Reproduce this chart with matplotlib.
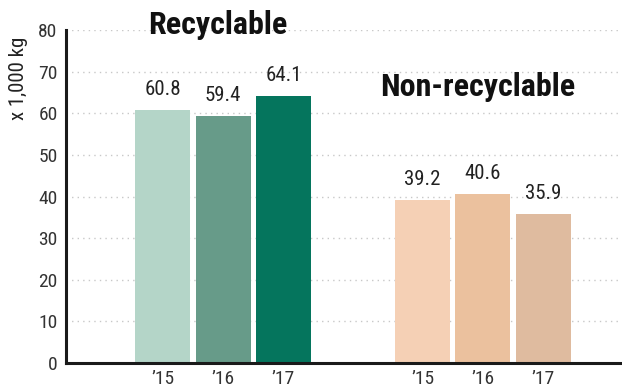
import matplotlib
matplotlib.use("Agg")
import matplotlib.pyplot as plt

categories = ["Recyclable", "Non-recyclable"]
years = ["\u201915", "\u201916", "\u201917"]
recyclable = [60.8, 59.4, 64.1]
non_recyclable = [39.2, 40.6, 35.9]
rec_colors = ["#b4d5c8", "#679b89", "#05755d"]
non_colors = ["#f5d0b5", "#ebc19e", "#dfbb9f"]

plt.rcParams["font.family"] = ["Roboto Condensed", "DejaVu Sans Condensed", "DejaVu Sans"]

fig = plt.figure(figsize=(6.22, 3.9), dpi=100)
ax = fig.add_axes([0.106, 0.069, 0.894, 0.854])

pos_rec = [0, 1, 2]
pos_non = [4.3, 5.3, 6.3]
w = 0.91
b1 = ax.bar(pos_rec, recyclable, width=w, color=rec_colors, zorder=2)
b2 = ax.bar(pos_non, non_recyclable, width=w, color=non_colors, zorder=2)
for bars, vals in ((b1, recyclable), (b2, non_recyclable)):
    for b, v in zip(bars, vals):
        ax.text(b.get_x() + b.get_width() / 2, v + 2.6, f"{v:.1f}",
                ha="center", va="bottom", fontsize=15, color="#222222")

ax.set_xlim(-1.6, 7.6)
ax.set_ylim(0, 80)
ax.set_yticks(range(0, 81, 10))
ax.set_xticks(pos_rec + pos_non)
ax.set_xticklabels(years + years)
ax.tick_params(axis="both", length=0, labelsize=14, colors="#333333")
ax.tick_params(axis="x", pad=5)
ax.tick_params(axis="y", pad=6)
ax.grid(axis="y", color="#c8c8c8", linestyle=(0, (1, 3)), linewidth=1, zorder=0)
for s in ("top", "right"):
    ax.spines[s].set_visible(False)
for s in ("left", "bottom"):
    ax.spines[s].set_linewidth(2.2)
    ax.spines[s].set_color("#1a1a1a")
ax.set_ylabel("x 1,000 kg", fontsize=15, color="#222222")
ax.yaxis.set_label_coords(-0.068, 0.856)

ax.text(0.92, 81.2, categories[0], ha="center", va="center", fontsize=23,
        fontweight="bold", color="#111111")
ax.text(5.21, 66.3, categories[1], ha="center", va="center", fontsize=23,
        fontweight="bold", color="#111111")

fig.savefig("out.png", dpi=100)
